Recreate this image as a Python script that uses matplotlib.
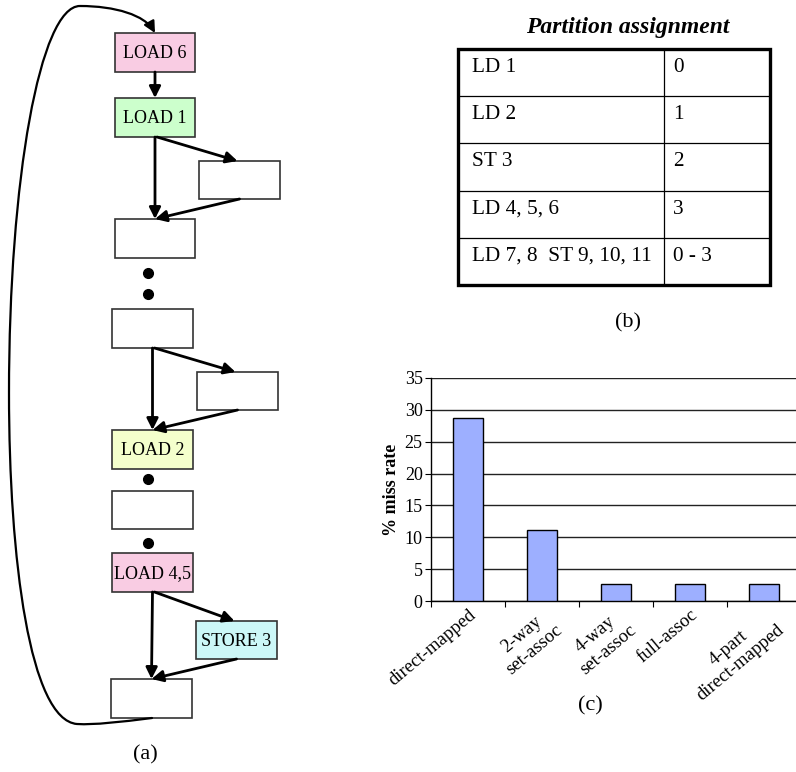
import matplotlib.pyplot as plt
import numpy as np
from matplotlib.patches import Rectangle, FancyArrowPatch
from matplotlib.path import Path

plt.rcParams['font.family'] = ['Liberation Serif', 'DejaVu Serif']

# (a) flow graph nodes
node_labels = ['LOAD 6', 'LOAD 1', '', '', '', '', 'LOAD 2', '', 'LOAD 4,5', 'STORE 3', '']
node_colors = ['#F9CCE3', '#CCFFCC', 'white', 'white', 'white', 'white',
               '#F4FFCC', 'white', '#F9CCE3', '#CCF7F7', 'white']
# box layout in pixels (x0, y0, x1, y1)
node_boxes = [(115, 33, 195, 72), (115, 98, 195, 137), (199, 161, 280, 199),
              (115, 219, 195, 258), (112, 309, 193, 348), (197, 372, 278, 410),
              (112, 430, 193, 469), (112, 491, 193, 529), (112, 553, 193, 592),
              (196, 621, 277, 659), (111, 679, 192, 718)]
edges = [(0, 1), (1, 3), (1, 2), (2, 3), (4, 6), (4, 5), (5, 6), (8, 10), (8, 9), (9, 10)]
dots = [(148, 273), (148, 294), (148, 479), (148, 543)]

# (b) table
part_ops = ['LD 1', 'LD 2', 'ST 3', 'LD 4, 5, 6', 'LD 7, 8  ST 9, 10, 11']
part_ids = ['0', '1', '2', '3', '0 - 3']

# (c) miss rates
configs = ['direct-mapped', '2-way\nset-assoc', '4-way\nset-assoc', 'full-assoc', '4-part\ndirect-mapped']
miss_rate = [28.7, 11.1, 2.6, 2.6, 2.7]

W, H = 796, 772
fig = plt.figure(figsize=(W / 100, H / 100), dpi=100)
bg = fig.add_axes([0, 0, 1, 1])
bg.set_xlim(0, W)
bg.set_ylim(H, 0)
bg.axis('off')

# ---- (a) ----
for lab, col, (x0, y0, x1, y1) in zip(node_labels, node_colors, node_boxes):
    bg.add_patch(Rectangle((x0, y0), x1 - x0, y1 - y0, facecolor=col,
                           edgecolor='#333333', lw=1.2))
    if lab:
        bg.text((x0 + x1) / 2, (y0 + y1) / 2 + 1, lab, ha='center', va='center', fontsize=13)

def top(b):
    return ((b[0] + b[2]) / 2, b[1])

def bottom(b):
    return ((b[0] + b[2]) / 2, b[3])

for a, b in edges:
    ba, bb = node_boxes[a], node_boxes[b]
    start = bottom(ba)
    end = top(bb)
    if bb[0] - ba[0] > 50:      # going to the side box
        start = ((ba[0] + ba[2]) / 2 + 2, ba[3])
        end = ((bb[0] + bb[2]) / 2 - 2, bb[1])
    bg.annotate('', xy=end, xytext=start,
                arrowprops=dict(arrowstyle='-|>', lw=2.0, color='black',
                                mutation_scale=17, shrinkA=0, shrinkB=0))

bg.plot([d[0] for d in dots], [d[1] for d in dots], 'o', color='black', ms=7)

loop_verts = [(152, 718),
              (120, 722), (95, 725), (77, 724),
              (30, 720), (9, 560), (9, 393),
              (9, 180), (40, 6), (80, 6),
              (115, 6), (145, 15), (155, 33)]
loop_codes = [Path.MOVETO] + [Path.CURVE4] * 12
bg.add_patch(FancyArrowPatch(path=Path(loop_verts, loop_codes), arrowstyle='-|>',
                             mutation_scale=17, lw=1.6, color='black'))
bg.text(145, 755, '(a)', ha='center', va='center', fontsize=16)

# ---- (b) ----
tx0, tx1, tcol = 458, 770, 664
row_y = np.linspace(49, 285, len(part_ops) + 1)
bg.text(628, 27, 'Partition assignment', ha='center', va='center', fontsize=17,
        fontweight='bold', style='italic')
for yy in row_y[1:-1]:
    bg.plot([tx0, tx1], [yy, yy], color='black', lw=0.9)
bg.plot([tcol, tcol], [row_y[0], row_y[-1]], color='black', lw=0.9)
bg.add_patch(Rectangle((tx0, row_y[0]), tx1 - tx0, row_y[-1] - row_y[0],
                       fill=False, edgecolor='black', lw=2.4))
for i, (op, pid) in enumerate(zip(part_ops, part_ids)):
    yc = (row_y[i] + row_y[i + 1]) / 2 - 5
    bg.text(472, yc, op, ha='left', va='center', fontsize=15.3)
    bg.text(673, yc, pid, ha='left', va='center', fontsize=15.3)
bg.text(628, 323, '(b)', ha='center', va='center', fontsize=16)

# ---- (c) ----
ax = fig.add_axes([431 / W, 1 - 601 / H, 370 / W, (601 - 378) / H])
x = np.arange(len(configs))
ax.bar(x, miss_rate, width=0.4, color='#9DAFFF', edgecolor='black', lw=1.0, zorder=3)
ax.set_ylim(0, 35)
ax.set_xlim(-0.5, len(configs) - 0.5)
ax.set_yticks(np.arange(0, 36, 5))
ax.yaxis.grid(True, color='#222222', lw=1.0)
ax.set_axisbelow(True)
for s in ['top', 'right']:
    ax.spines[s].set_visible(False)
ax.spines['left'].set_linewidth(1.0)
ax.spines['bottom'].set_linewidth(1.0)
ax.set_xticks(np.arange(-0.5, len(configs), 1.0))
ax.set_xticklabels([])
ax.set_xticks(x, minor=True)
ax.set_xticklabels(configs, minor=True, rotation=40, ha='right', va='top',
                   rotation_mode='anchor', multialignment='center', fontsize=13.5)
ax.tick_params(axis='x', which='minor', length=0, pad=4)
ax.tick_params(axis='x', which='major', length=4, direction='out')
ax.tick_params(axis='y', length=4, direction='out', labelsize=13, pad=2)
ax.set_ylabel('% miss rate', fontsize=13, fontweight='bold', labelpad=3)
bg.text(590, 706, '(c)', ha='center', va='center', fontsize=16)

fig.savefig('out.png', dpi=100)
